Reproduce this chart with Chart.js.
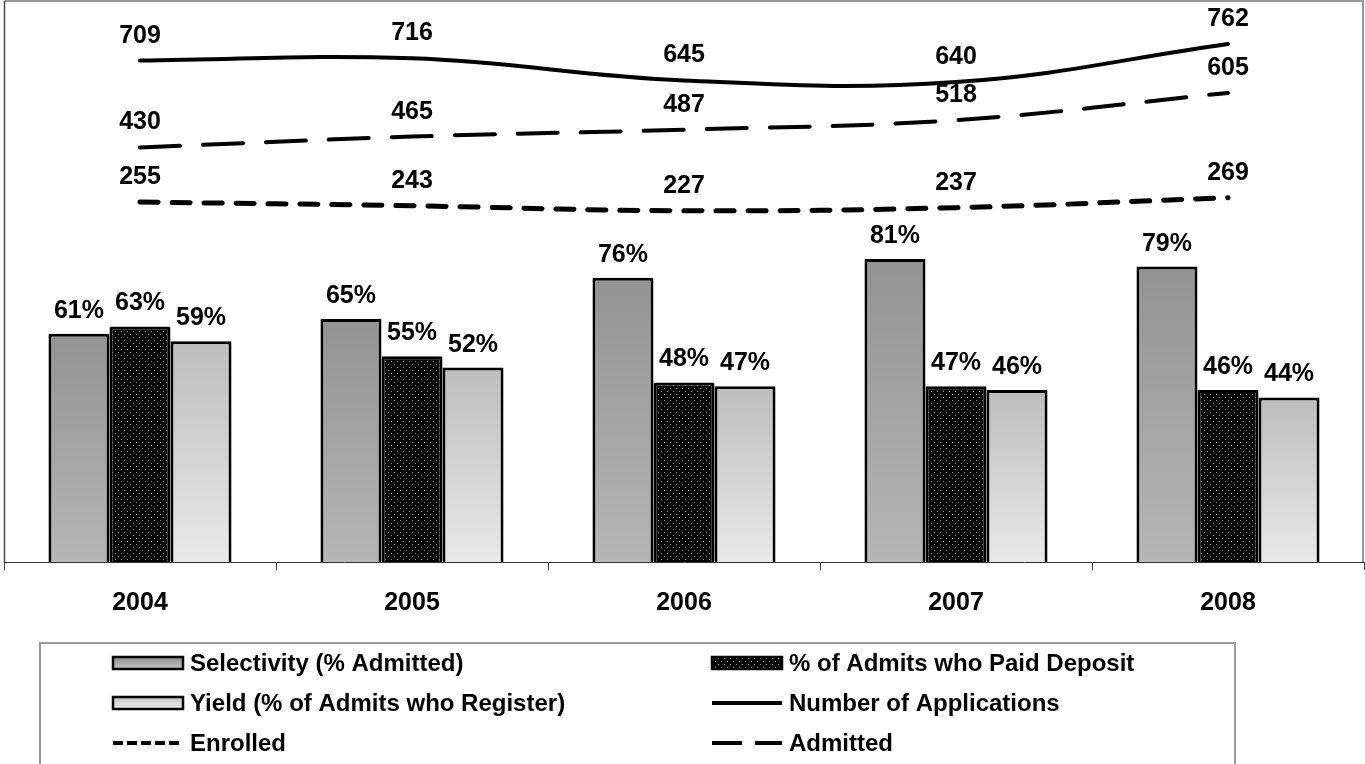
<!DOCTYPE html>
<html>
<head>
<meta charset="utf-8">
<script src="https://cdn.jsdelivr.net/npm/chart.js@4"></script>
<style>
  html, body { margin: 0; padding: 0; background: #fff; }
  #wrap { width: 1365px; height: 764px; position: relative; }
</style>
</head>
<body>
<div id="wrap"><canvas id="admissions"></canvas></div>
<script>
// Chart data
const years = ["2004", "2005", "2006", "2007", "2008"];
const selectivity = [61, 65, 76, 81, 79];
const paidDeposit = [63, 55, 48, 47, 46];
const yieldPct = [59, 52, 47, 46, 44];
const applications = [709, 716, 645, 640, 762];
const admitted = [430, 465, 487, 518, 605];
const enrolled = [255, 243, 227, 237, 269];

const FONT = "'Liberation Sans', Arial, sans-serif";

// Dotted black pattern for the deposit bars
function makeDotPattern(ctx) {
  const c = document.createElement("canvas");
  c.width = 6;
  c.height = 6;
  const p = c.getContext("2d");
  p.fillStyle = "#050505";
  p.fillRect(0, 0, 6, 6);
  p.fillStyle = "#8c8c8c";
  p.fillRect(1, 1, 1, 1);
  p.fillRect(4, 4, 1, 1);
  return ctx.createPattern(c, "repeat");
}

// Vertical gradient for each bar, from its top to the baseline
function barGradient(top, bottom) {
  return function (context) {
    const chart = context.chart;
    const area = chart.chartArea;
    if (!area || context.type !== "data") return bottom;
    const yTop = chart.scales.y.getPixelForValue(context.raw);
    const g = chart.ctx.createLinearGradient(0, yTop, 0, area.bottom);
    g.addColorStop(0, top);
    g.addColorStop(1, bottom);
    return g;
  };
}

// Value labels above bars and line points
const valueLabels = {
  id: "valueLabels",
  afterDatasetsDraw(chart) {
    const ctx = chart.ctx;
    ctx.save();
    ctx.fillStyle = "#000";
    ctx.textAlign = "center";
    ctx.textBaseline = "alphabetic";
    ctx.font = "bold 25px " + FONT;
    chart.data.datasets.forEach((ds, i) => {
      const meta = chart.getDatasetMeta(i);
      meta.data.forEach((el, j) => {
        if (ds.type === "line") {
          ctx.fillText(String(ds.data[j]), el.x, el.y - 18);
        } else {
          ctx.fillText(ds.data[j] + "%", el.x, el.y - 16);
        }
      });
    });
    ctx.restore();
  },
};

// Plot area border (Excel style)
const plotBorder = {
  id: "plotBorder",
  beforeDatasetsDraw(chart) {
    const ctx = chart.ctx;
    const a = chart.chartArea;
    ctx.save();
    ctx.lineWidth = 2;
    ctx.strokeStyle = "#9a9a9a";
    ctx.beginPath();
    ctx.moveTo(a.left, a.top);
    ctx.lineTo(a.right - 1, a.top);
    ctx.lineTo(a.right - 1, a.bottom);
    ctx.stroke();
    ctx.lineWidth = 1.5;
    ctx.strokeStyle = "#4a4a4a";
    ctx.beginPath();
    ctx.moveTo(a.left + 0.5, a.top);
    ctx.lineTo(a.left + 0.5, a.bottom);
    ctx.stroke();
    ctx.restore();
  },
};

// Boxed two-column legend under the chart
const boxLegend = {
  id: "boxLegend",
  afterDraw(chart) {
    const ctx = chart.ctx;
    ctx.save();
    ctx.strokeStyle = "#9a9a9a";
    ctx.lineWidth = 2;
    ctx.strokeRect(40, 643, 1195, 140);
    const cols = [113, 712];
    const rows = [663, 703, 743];
    ctx.font = "bold 24px " + FONT;
    ctx.textBaseline = "alphabetic";
    ctx.textAlign = "left";
    chart.data.datasets.forEach((ds, i) => {
      const x = cols[i % 2];
      const y = rows[Math.floor(i / 2)];
      if (ds.type === "line") {
        ctx.strokeStyle = "#000";
        ctx.lineWidth = 4;
        ctx.lineCap = "butt";
        ctx.setLineDash(ds.legendDash || []);
        ctx.beginPath();
        ctx.moveTo(x, y);
        ctx.lineTo(x + 70, y);
        ctx.stroke();
        ctx.setLineDash([]);
      } else {
        let fill = ds.legendFill;
        if (ds.legendGrad) {
          fill = ctx.createLinearGradient(0, y - 6, 0, y + 6);
          fill.addColorStop(0, ds.legendGrad[0]);
          fill.addColorStop(1, ds.legendGrad[1]);
        }
        ctx.fillStyle = fill;
        ctx.fillRect(x, y - 6, 70, 12);
        ctx.strokeStyle = "#000";
        ctx.lineWidth = 2.5;
        ctx.strokeRect(x, y - 6, 70, 12);
      }
      ctx.fillStyle = "#000";
      ctx.fillText(ds.label, x + 77, y + 8);
    });
    ctx.restore();
  },
};

const canvas = document.getElementById("admissions");
const ctx = canvas.getContext("2d");
const dots = makeDotPattern(ctx);

const chart = new Chart(ctx, {
  data: {
    labels: years,
    datasets: [
      {
        type: "bar",
        label: "Selectivity (% Admitted)",
        data: selectivity,
        backgroundColor: barGradient("#939393", "#b6b6b6"),
        legendGrad: ["#8f8f8f", "#c4c4c4"],
        borderColor: "#000",
        borderWidth: 3,
        yAxisID: "y",
      },
      {
        type: "bar",
        label: "% of Admits who Paid Deposit",
        data: paidDeposit,
        backgroundColor: dots,
        legendFill: dots,
        borderColor: "#000",
        borderWidth: 3,
        yAxisID: "y",
      },
      {
        type: "bar",
        label: "Yield (% of Admits who Register)",
        data: yieldPct,
        backgroundColor: barGradient("#bdbdbd", "#e9e9e9"),
        legendGrad: ["#c4c4c4", "#ececec"],
        borderColor: "#000",
        borderWidth: 3,
        yAxisID: "y",
      },
      {
        type: "line",
        label: "Number of Applications",
        data: applications,
        borderColor: "#000",
        borderWidth: 4,
        borderCapStyle: "round",
        tension: 0.4,
        pointRadius: 0,
        fill: false,
        yAxisID: "y1",
      },
      {
        type: "line",
        label: "Enrolled",
        data: enrolled,
        borderColor: "#000",
        borderWidth: 5,
        borderDash: [18, 14],
        borderCapStyle: "round",
        legendDash: [10, 4],
        tension: 0.4,
        pointRadius: 0,
        fill: false,
        yAxisID: "y1",
      },
      {
        type: "line",
        label: "Admitted",
        data: admitted,
        borderColor: "#000",
        borderWidth: 4,
        borderDash: [40, 23],
        borderCapStyle: "round",
        legendDash: [30, 13],
        tension: 0.4,
        pointRadius: 0,
        fill: false,
        yAxisID: "y1",
      },
    ],
  },
  options: {
    responsive: true,
    maintainAspectRatio: false,
    animation: false,
    categoryPercentage: 0.673,
    barPercentage: 1,
    layout: { padding: { left: 4, right: 1, top: 1, bottom: 0 } },
    plugins: {
      legend: { display: false },
      tooltip: { enabled: false },
    },
    scales: {
      x: {
        grid: {
          offset: true,
          drawOnChartArea: false,
          drawTicks: true,
          tickLength: 8,
          color: "#444",
        },
        border: { color: "#333", width: 1 },
        ticks: {
          color: "#000",
          font: { family: FONT, size: 25, weight: "bold" },
          padding: 18,
        },
        afterFit(scale) {
          scale.height = 202;
        },
      },
      y: { display: false, min: 0, max: 150 },
      y1: { display: false, min: -900, max: 900 },
    },
  },
  plugins: [plotBorder, valueLabels, boxLegend],
});
</script>
</body>
</html>
